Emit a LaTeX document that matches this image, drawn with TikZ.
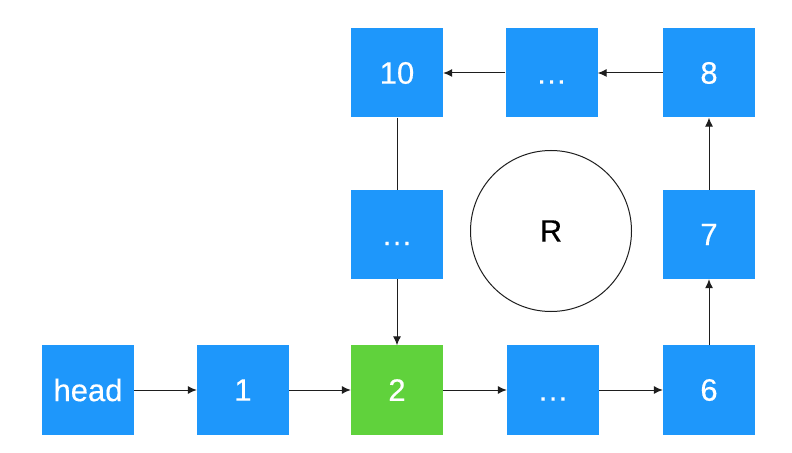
\documentclass[tikz,border=0pt]{standalone}
\usepackage{fontspec}
\setmainfont{Liberation Sans}
\newfontfamily\cellfont[FakeBold=0.4]{Liberation Sans}
\usetikzlibrary{arrows.meta}
\definecolor{boxblue}{RGB}{30,151,251}
\definecolor{boxgreen}{RGB}{96,210,60}
\definecolor{linegray}{RGB}{30,30,30}
\newcommand{\dotsmark}{\vphantom{0}\symbol{"2026}}
\begin{document}
\begin{tikzpicture}[x=1bp,y=-1bp,
  cell/.style={fill=boxblue,draw=none,minimum width=92bp,minimum height=89bp,inner sep=0pt,text=white,font=\cellfont\fontsize{31bp}{34bp}\selectfont},
  greencell/.style={cell,fill=boxgreen},
  link/.style={draw=linegray,line width=1bp,-{Latex[length=9bp,width=8bp]}},
  plain/.style={draw=linegray,line width=1bp}]
\useasboundingbox (0,0) rectangle (792,453);
\fill[white] (0,0) rectangle (792,453);
\node[cell] (head) at (88,390) {head};
\node[cell] (n1) at (243,390) {1};
\node[greencell] (n2) at (397,390) {2};
\node[cell] (db) at (553,390) {\dotsmark};
\node[cell] (n6) at (709,390) {6};
\node[cell] (n7) at (709,234.5) {7};
\node[cell] (n8) at (709,73) {8};
\node[cell] (dt) at (551.5,73) {\dotsmark};
\node[cell] (n10) at (397,73) {10};
\node[cell] (dm) at (397,234.5) {\dotsmark};
\node[circle,draw=linegray,line width=1bp,minimum size=161bp,inner sep=0pt,font=\cellfont\fontsize{31bp}{34bp}\selectfont] (R) at (551,231) {R};
\draw[link] (head) -- (n1);
\draw[link] (n1) -- (n2);
\draw[link] (n2) -- (db);
\draw[link] (db) -- (n6);
\draw[link] (n6) -- (n7);
\draw[link] (n7) -- (n8);
\draw[link] (n8) -- (dt);
\draw[link] (dt) -- (n10);
\draw[plain] (n10) -- (dm);
\draw[link] (dm) -- (n2);
\end{tikzpicture}
\end{document}
